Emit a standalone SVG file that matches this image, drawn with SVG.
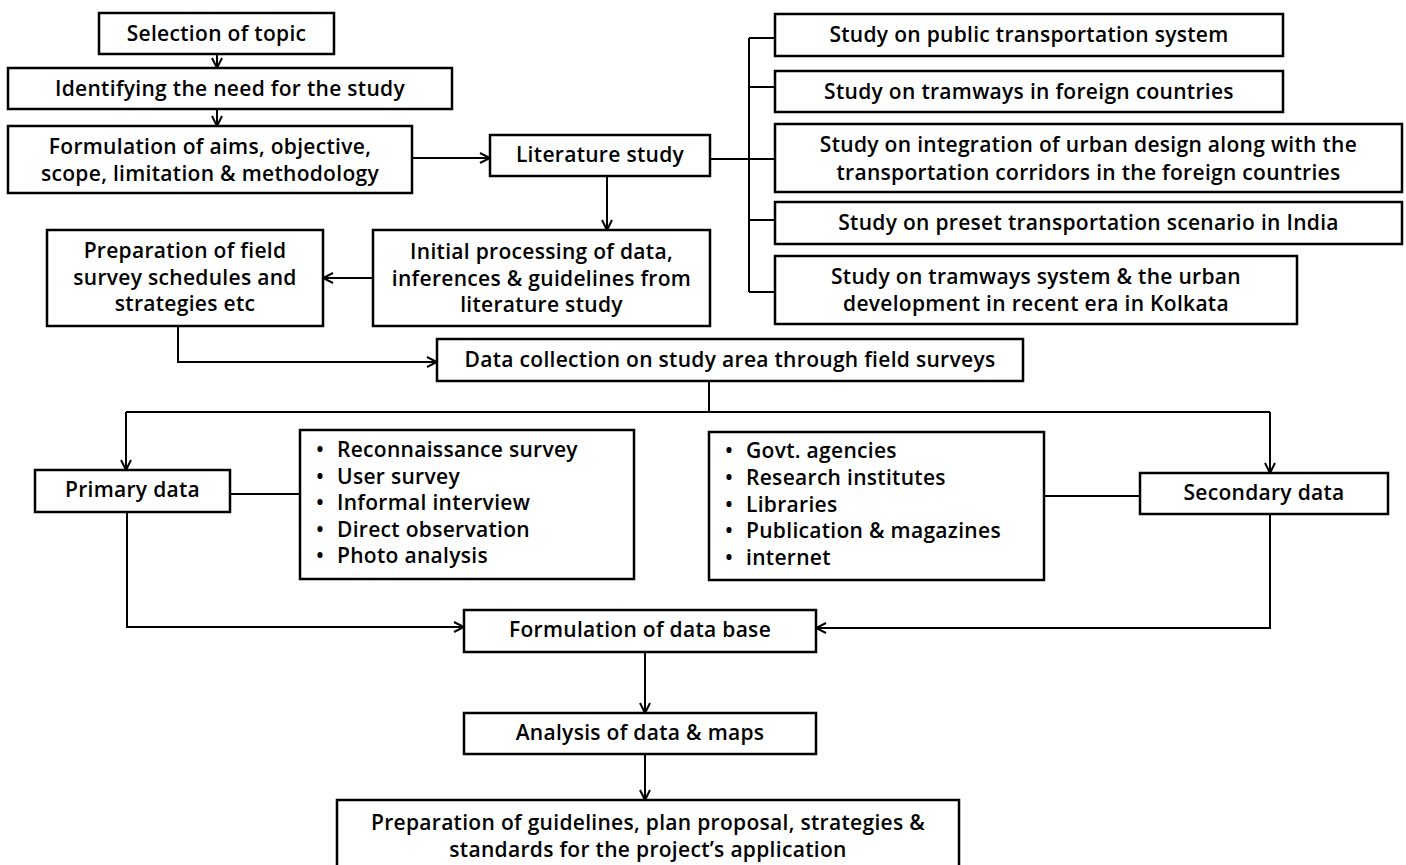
<svg xmlns="http://www.w3.org/2000/svg" width="1406" height="865" viewBox="0 0 1406 865">
<defs>
<marker id="arr" viewBox="0 0 12 12" refX="11" refY="6" markerWidth="12" markerHeight="12" markerUnits="userSpaceOnUse" orient="auto">
<path d="M1,1 L11,6 L1,11" fill="none" stroke="#000" stroke-width="2"/>
</marker>
<style>
.box{fill:#fff;stroke:#000;stroke-width:2.5}
.t{font-family:"Open Sans","Liberation Sans",sans-serif;font-size:21px;font-weight:600;letter-spacing:0.3px;fill:#000;text-anchor:middle}
.b{font-family:"Open Sans","Liberation Sans",sans-serif;font-size:21px;font-weight:600;letter-spacing:0.3px;fill:#000}
.ln{fill:none;stroke:#000;stroke-width:2}
.ar{fill:none;stroke:#000;stroke-width:2;marker-end:url(#arr)}
</style>
</defs>
<rect width="1406" height="865" fill="#fff"/>
<g id="connectors">
<path class="ar" d="M217,54 V68"/>
<path class="ar" d="M217,109 V126"/>
<path class="ar" d="M412,158 H490"/>
<path class="ar" d="M607,176 V230"/>
<path class="ar" d="M373,278 H323"/>
<path class="ln" d="M710,159 H775 M749,38 V292 M749,38 H775 M749,87 H775 M749,220 H775 M749,292 H775"/>
<path class="ar" d="M178,326 V362 H437"/>
<path class="ln" d="M709,381 V412 M126,412 H1270"/>
<path class="ar" d="M126,412 V470"/>
<path class="ar" d="M1270,412 V473"/>
<path class="ln" d="M230,494 H308"/>
<circle cx="308" cy="494" r="2" fill="#000"/>
<path class="ln" d="M1036,496 H1140"/>
<path class="ar" d="M127,512 V627 H464"/>
<path class="ar" d="M1270,514 V628 H816"/>
<path class="ar" d="M645,652 V713"/>
<path class="ar" d="M645,754 V800"/>
</g>
<g id="n1"><rect class="box" x="99" y="13" width="235" height="41"/><text class="t" x="216.5" y="41">Selection of topic</text></g>
<g id="n2"><rect class="box" x="8" y="68" width="444" height="41"/><text class="t" x="230" y="96">Identifying the need for the study</text></g>
<g id="n3"><rect class="box" x="8" y="126" width="404" height="67"/><text class="t" x="210" y="154">Formulation of aims, objective,</text><text class="t" x="210" y="181">scope, limitation &amp; methodology</text></g>
<g id="n4"><rect class="box" x="490" y="135" width="220" height="41"/><text class="t" x="600" y="162">Literature study</text></g>
<g id="n5"><rect class="box" x="373" y="230" width="337" height="96"/><text class="t" x="541.5" y="259">Initial processing of data,</text><text class="t" x="541.5" y="286">inferences &amp; guidelines from</text><text class="t" x="541.5" y="312">literature study</text></g>
<g id="n6"><rect class="box" x="47" y="230" width="276" height="96"/><text class="t" x="185" y="258">Preparation of field</text><text class="t" x="185" y="285">survey schedules and</text><text class="t" x="185" y="311">strategies etc</text></g>
<g id="s1"><rect class="box" x="775" y="14" width="508" height="42"/><text class="t" x="1029" y="42">Study on public transportation system</text></g>
<g id="s2"><rect class="box" x="775" y="71" width="508" height="41"/><text class="t" x="1029" y="99">Study on tramways in foreign countries</text></g>
<g id="s3"><rect class="box" x="775" y="124" width="627" height="68"/><text class="t" x="1088.5" y="152">Study on integration of urban design along with the</text><text class="t" x="1088.5" y="180">transportation corridors in the foreign countries</text></g>
<g id="s4"><rect class="box" x="775" y="202" width="627" height="42"/><text class="t" x="1088.5" y="230">Study on preset transportation scenario in India</text></g>
<g id="s5"><rect class="box" x="775" y="256" width="522" height="68"/><text class="t" x="1036" y="284">Study on tramways system &amp; the urban</text><text class="t" x="1036" y="311">development in recent era in Kolkata</text></g>
<g id="n7"><rect class="box" x="437" y="339" width="586" height="42"/><text class="t" x="730" y="367">Data collection on study area through field surveys</text></g>
<g id="n8"><rect class="box" x="35" y="470" width="195" height="42"/><text class="t" x="132.5" y="497">Primary data</text></g>
<g id="n9"><rect class="box" x="300" y="430" width="334" height="149"/>
<text class="b" x="316" y="457">•</text><text class="b" x="337" y="457">Reconnaissance survey</text>
<text class="b" x="316" y="484">•</text><text class="b" x="337" y="484">User survey</text>
<text class="b" x="316" y="510">•</text><text class="b" x="337" y="510">Informal interview</text>
<text class="b" x="316" y="537">•</text><text class="b" x="337" y="537">Direct observation</text>
<text class="b" x="316" y="563">•</text><text class="b" x="337" y="563">Photo analysis</text></g>
<g id="n10"><rect class="box" x="709" y="432" width="335" height="148"/>
<text class="b" x="725" y="458">•</text><text class="b" x="746" y="458">Govt. agencies</text>
<text class="b" x="725" y="485">•</text><text class="b" x="746" y="485">Research institutes</text>
<text class="b" x="725" y="512">•</text><text class="b" x="746" y="512">Libraries</text>
<text class="b" x="725" y="538">•</text><text class="b" x="746" y="538">Publication &amp; magazines</text>
<text class="b" x="725" y="565">•</text><text class="b" x="746" y="565">internet</text></g>
<g id="n11"><rect class="box" x="1140" y="473" width="248" height="41"/><text class="t" x="1264" y="500">Secondary data</text></g>
<g id="n12"><rect class="box" x="464" y="610" width="352" height="42"/><text class="t" x="640" y="637">Formulation of data base</text></g>
<g id="n13"><rect class="box" x="464" y="713" width="352" height="41"/><text class="t" x="640" y="740">Analysis of data &amp; maps</text></g>
<g id="n14"><rect class="box" x="337" y="800" width="622" height="80"/><text class="t" x="648" y="830">Preparation of guidelines, plan proposal, strategies &amp;</text><text class="t" x="648" y="857">standards for the project’s application</text></g>
</svg>
